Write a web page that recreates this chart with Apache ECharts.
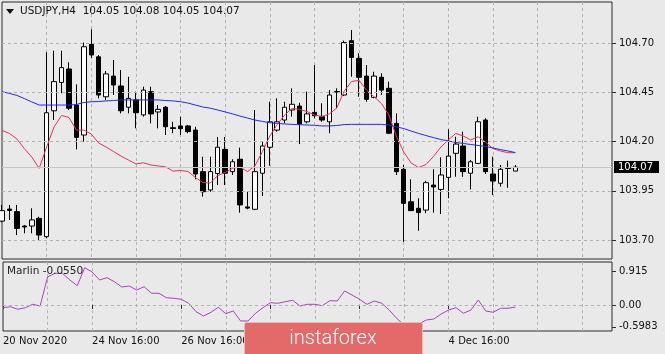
<!DOCTYPE html>
<html>
<head>
<meta charset="utf-8">
<title>USDJPY H4</title>
<script src="https://cdn.jsdelivr.net/npm/echarts@6/dist/echarts.min.js"></script>
<style>
  html, body { margin: 0; padding: 0; background: #e9e9e9; }
  #chart { width: 665px; height: 354px; }
</style>
</head>
<body>
<div id="chart"></div>
<script>
// H4 bars, 20 Nov 16:00 .. 8 Dec 04:00
var barTimes = [
  '20 Nov 16:00', '20 Nov 20:00',
  '23 Nov 00:00', '23 Nov 04:00', '23 Nov 08:00', '23 Nov 12:00', '23 Nov 16:00', '23 Nov 20:00',
  '24 Nov 00:00', '24 Nov 04:00', '24 Nov 08:00', '24 Nov 12:00', '24 Nov 16:00', '24 Nov 20:00',
  '25 Nov 00:00', '25 Nov 04:00', '25 Nov 08:00', '25 Nov 12:00', '25 Nov 16:00', '25 Nov 20:00',
  '26 Nov 00:00', '26 Nov 04:00', '26 Nov 08:00', '26 Nov 12:00', '26 Nov 16:00', '26 Nov 20:00',
  '27 Nov 00:00', '27 Nov 04:00', '27 Nov 08:00', '27 Nov 12:00', '27 Nov 16:00', '27 Nov 20:00',
  '30 Nov 00:00', '30 Nov 04:00', '30 Nov 08:00', '30 Nov 12:00', '30 Nov 16:00', '30 Nov 20:00',
  '1 Dec 00:00', '1 Dec 04:00', '1 Dec 08:00', '1 Dec 12:00', '1 Dec 16:00', '1 Dec 20:00',
  '2 Dec 00:00', '2 Dec 04:00', '2 Dec 08:00', '2 Dec 12:00', '2 Dec 16:00', '2 Dec 20:00',
  '3 Dec 00:00', '3 Dec 04:00', '3 Dec 08:00', '3 Dec 12:00', '3 Dec 16:00', '3 Dec 20:00',
  '4 Dec 00:00', '4 Dec 04:00', '4 Dec 08:00', '4 Dec 12:00', '4 Dec 16:00', '4 Dec 20:00',
  '7 Dec 00:00', '7 Dec 04:00', '7 Dec 08:00', '7 Dec 12:00', '7 Dec 16:00', '7 Dec 20:00',
  '8 Dec 00:00', '8 Dec 04:00'
];

var opens = [
  103.796, 103.857, 103.844, 103.771, 103.771, 103.810, 103.717, 104.356, 104.500, 104.568,
  104.385, 104.233, 104.693, 104.630, 104.427, 104.532, 104.482, 104.374, 104.411, 104.335,
  104.453, 104.350, 104.374, 104.270, 104.279, 104.279, 104.258, 104.047, 103.954, 104.038,
  104.160, 104.047, 104.110, 103.868, 103.856, 104.039, 104.171, 104.258, 104.309, 104.360,
  104.380, 104.300, 104.348, 104.326, 104.300, 104.451, 104.436, 104.712, 104.622, 104.532,
  104.424, 104.526, 104.470, 104.292, 104.059, 103.894, 103.861, 103.852, 103.979, 103.957,
  104.018, 104.140, 104.177, 104.039, 104.089, 104.309, 104.035, 103.988, 104.068, 104.050
];
var closes = [
  103.849, 103.850, 103.759, 103.766, 103.802, 103.725, 104.346, 104.504, 104.575, 104.369,
  104.221, 104.681, 104.639, 104.436, 104.543, 104.487, 104.356, 104.419, 104.346, 104.461,
  104.340, 104.363, 104.275, 104.266, 104.265, 104.250, 104.035, 103.945, 104.047, 104.171,
  104.039, 104.097, 103.878, 103.862, 104.047, 104.177, 104.300, 104.300, 104.374, 104.389,
  104.289, 104.340, 104.331, 104.309, 104.436, 104.454, 104.702, 104.627, 104.526, 104.414,
  104.532, 104.461, 104.242, 104.047, 103.886, 103.849, 103.839, 103.991, 103.969, 104.030,
  104.126, 104.187, 104.047, 104.097, 104.300, 104.047, 103.999, 104.059, 104.063, 104.070
];
var lows = [
  103.790, 103.802, 103.725, 103.734, 103.734, 103.696, 103.709, 104.309, 104.445, 104.360,
  104.160, 104.199, 104.624, 104.419, 104.410, 104.436, 104.343, 104.343, 104.267, 104.326,
  104.292, 104.267, 104.233, 104.242, 104.233, 104.242, 104.008, 103.920, 103.945, 103.979,
  103.979, 104.030, 103.839, 103.856, 103.852, 103.923, 104.077, 104.250, 104.292, 104.326,
  104.187, 104.292, 104.318, 104.300, 104.242, 104.369, 104.431, 104.529, 104.427, 104.402,
  104.419, 104.436, 104.238, 104.030, 103.691, 103.847, 103.747, 103.836, 103.839, 103.832,
  103.912, 104.021, 104.021, 103.957, 104.086, 104.035, 103.928, 103.971, 103.965, 104.050
];
var highs = [
  103.878, 103.878, 103.878, 103.776, 103.861, 103.818, 104.653, 104.661, 104.661, 104.602,
  104.490, 104.702, 104.770, 104.639, 104.558, 104.614, 104.563, 104.529, 104.453, 104.478,
  104.478, 104.385, 104.380, 104.300, 104.326, 104.284, 104.275, 104.123, 104.123, 104.223,
  104.223, 104.110, 104.169, 103.945, 104.360, 104.199, 104.402, 104.419, 104.402, 104.470,
  104.397, 104.453, 104.588, 104.394, 104.461, 104.470, 104.712, 104.766, 104.648, 104.588,
  104.554, 104.546, 104.504, 104.343, 104.081, 104.008, 103.912, 104.001, 104.059, 104.120,
  104.262, 104.224, 104.250, 104.106, 104.326, 104.318, 104.123, 104.081, 104.103, 104.080
];

// fast MA (red) and slow MA (blue)
var maFast = [
  104.256, 104.241, 104.213, 104.164, 104.121, 104.064, 104.172, 104.274, 104.332, 104.322,
  104.258, 104.258, 104.238, 104.192, 104.172, 104.149, 104.126, 104.106, 104.086, 104.092,
  104.081, 104.076, 104.071, 104.050, 104.053, 104.048, 104.017, 103.992, 103.989, 104.027,
  104.043, 104.064, 104.071, 104.047, 104.076, 104.148, 104.228, 104.286, 104.335, 104.368,
  104.363, 104.352, 104.335, 104.327, 104.340, 104.370, 104.456, 104.505, 104.510, 104.461,
  104.428, 104.393, 104.335, 104.228, 104.147, 104.091, 104.068, 104.083, 104.124, 104.172,
  104.208, 104.241, 104.228, 104.208, 104.224, 104.197, 104.164, 104.152, 104.143, 104.143
];
var maSlow = [
  104.453, 104.444, 104.434, 104.418, 104.401, 104.385, 104.385, 104.385, 104.385, 104.385,
  104.388, 104.398, 104.402, 104.403, 104.406, 104.408, 104.411, 104.411, 104.411, 104.411,
  104.411, 104.411, 104.408, 104.406, 104.402, 104.395, 104.385, 104.375, 104.369, 104.360,
  104.350, 104.340, 104.329, 104.319, 104.309, 104.302, 104.295, 104.292, 104.289, 104.287,
  104.285, 104.284, 104.282, 104.279, 104.279, 104.281, 104.286, 104.287, 104.287, 104.287,
  104.287, 104.287, 104.284, 104.274, 104.266, 104.253, 104.241, 104.230, 104.220, 104.210,
  104.203, 104.195, 104.190, 104.185, 104.180, 104.175, 104.167, 104.159, 104.152, 104.144
];

var marlin = [
  -0.074, -0.047, -0.118, -0.074, 0.019, -0.027, 0.767, 0.868, 0.868, 0.685,
  0.529, 1.022, 0.904, 0.685, 0.748, 0.638, 0.493, 0.521, 0.411, 0.501,
  0.321, 0.321, 0.200, 0.184, 0.156, 0.047, -0.184, -0.301, -0.200, -0.063,
  -0.238, -0.164, -0.438, -0.438, -0.227, -0.074, 0.063, 0.047, 0.090, 0.129,
  -0.027, 0.019, 0.019, -0.019, 0.118, 0.110, 0.384, 0.274, 0.156, 0.019,
  0.110, 0.047, -0.137, -0.364, -0.548, -0.598, -0.520, -0.411, -0.384, -0.247,
  -0.137, -0.074, -0.227, -0.137, 0.137, -0.164, -0.200, -0.090, -0.090, -0.055
];

var priceTicks = [103.70, 103.95, 104.20, 104.45, 104.70];
var marlinTicks = [-0.5983, 0.00, 0.915];
var tickTimes = ['20 Nov 16:00', '24 Nov 16:00', '26 Nov 16:00', '30 Nov 16:00', '2 Dec 16:00', '4 Dec 16:00'];
var tickLabels = ['20 Nov 2020', '24 Nov 16:00', '26 Nov 16:00', '30 Nov 16:00', '2 Dec 16:00', '4 Dec 16:00'];
var lastQuote = { open: 104.05, high: 104.08, low: 104.05, close: 104.07 };
var marlinLast = -0.0550;

// empty bar slots to the right of the last candle
var axisCats = barTimes.concat(new Array(13).fill(''));

var candles = opens.map(function (o, i) {
  return [o, closes[i], lows[i], highs[i]];
});

var font = 'DejaVu Sans';
var gridDash = { color: '#b3b3b3', type: [3, 3], width: 1 };

function isGridBar(i) { return i > 0 && i % 6 === 0; }
function isTickBar(i, v) { return tickTimes.indexOf(v) >= 0; }

var chart = echarts.init(document.getElementById('chart'), null, { renderer: 'canvas' });

chart.setOption({
  backgroundColor: '#e9e9e9',
  animation: false,
  textStyle: { fontFamily: font },
  grid: [
    { left: 2, right: 53, top: 2, bottom: 95, show: true, borderColor: '#2b2b2b', borderWidth: 1, backgroundColor: 'transparent' },
    { left: 2, right: 53, top: 262, bottom: 23, show: true, borderColor: '#2b2b2b', borderWidth: 1, backgroundColor: 'transparent' }
  ],
  xAxis: [
    {
      type: 'category', gridIndex: 0, data: axisCats, boundaryGap: false,
      axisLine: { show: false }, axisTick: { show: false }, axisLabel: { show: false },
      splitLine: { show: true, interval: isGridBar, lineStyle: gridDash }
    },
    {
      type: 'category', gridIndex: 1, data: axisCats, boundaryGap: false,
      axisLine: { show: false },
      axisTick: { show: true, interval: isTickBar, length: 4, lineStyle: { color: '#2b2b2b' } },
      axisLabel: {
        show: true, interval: isTickBar, align: 'left', margin: 5,
        fontFamily: font, fontSize: 10, color: '#111',
        formatter: function (v) {
          var k = tickTimes.indexOf(v);
          return k >= 0 ? tickLabels[k] : '';
        }
      },
      splitLine: { show: true, interval: isGridBar, lineStyle: gridDash }
    }
  ],
  yAxis: [
    {
      type: 'value', gridIndex: 0, position: 'right', scale: true,
      min: 103.6036, max: 104.9081,
      axisLine: { show: false },
      axisTick: { show: true, length: 4, customValues: priceTicks, lineStyle: { color: '#2b2b2b' } },
      axisLabel: {
        show: true, customValues: priceTicks, margin: 7,
        fontFamily: font, fontSize: 10, color: '#111',
        formatter: function (v) { return v.toFixed(2); }
      },
      splitLine: { show: false }
    },
    {
      type: 'value', gridIndex: 1, position: 'right',
      min: -0.712, max: 1.178,
      axisLine: { show: false },
      axisTick: { show: true, length: 4, customValues: marlinTicks, lineStyle: { color: '#2b2b2b' } },
      axisLabel: {
        show: true, customValues: marlinTicks, margin: 7,
        fontFamily: font, fontSize: 10, color: '#111',
        formatter: function (v) { return v === 0 ? '0.00' : String(v); }
      },
      splitLine: { show: false }
    }
  ],
  series: [
    {
      // price grid lines + current price line
      type: 'line', xAxisIndex: 0, yAxisIndex: 0, data: [], z: 1,
      markLine: {
        silent: true, symbol: 'none', animation: false,
        label: { show: false },
        lineStyle: gridDash,
        data: priceTicks.map(function (v) { return { yAxis: v }; }).concat([{
          yAxis: lastQuote.close,
          lineStyle: { type: 'solid', color: '#c6c6c6', width: 1 },
          label: {
            show: true, position: 'end', distance: 2,
            formatter: lastQuote.close.toFixed(2),
            backgroundColor: '#000', color: '#fff',
            fontFamily: font, fontSize: 10, lineHeight: 12,
            padding: [0, 6, 0, 4]
          }
        }])
      }
    },
    {
      type: 'line', xAxisIndex: 1, yAxisIndex: 1, data: [], z: 1,
      markLine: {
        silent: true, symbol: 'none', animation: false,
        label: { show: false },
        lineStyle: gridDash,
        data: [{ yAxis: 0 }]
      }
    },
    {
      name: 'USDJPY', type: 'candlestick', xAxisIndex: 0, yAxisIndex: 0,
      data: candles, barWidth: 5, z: 3,
      itemStyle: {
        color: '#ffffff', color0: '#000000',
        borderColor: '#000000', borderColor0: '#000000', borderWidth: 1
      }
    },
    {
      name: 'MA fast', type: 'line', xAxisIndex: 0, yAxisIndex: 0,
      data: maFast, showSymbol: false, z: 4,
      lineStyle: { color: '#e5325c', width: 1 }
    },
    {
      name: 'MA slow', type: 'line', xAxisIndex: 0, yAxisIndex: 0,
      data: maSlow, showSymbol: false, z: 4,
      lineStyle: { color: '#2626ff', width: 1 }
    },
    {
      name: 'Marlin', type: 'line', xAxisIndex: 1, yAxisIndex: 1,
      data: marlin, showSymbol: false, z: 4,
      lineStyle: { color: '#a844bc', width: 1 }
    }
  ],
  graphic: [
    {
      type: 'polygon', z: 50,
      shape: { points: [[6, 9], [14, 9], [10, 14]] },
      style: { fill: '#111' }
    },
    {
      type: 'text', left: 20, top: 6, z: 50,
      style: {
        text: 'USDJPY,H4  ' + [lastQuote.open, lastQuote.high, lastQuote.low, lastQuote.close].map(function (v) { return v.toFixed(2); }).join(' '),
        font: '10.5px "DejaVu Sans"', fill: '#111'
      }
    },
    {
      type: 'text', left: 7, top: 266, z: 50,
      style: { text: 'Marlin ' + marlinLast.toFixed(4), font: '10.5px "DejaVu Sans"', fill: '#222' }
    },
    {
      type: 'group', z: 100,
      children: [
        {
          type: 'rect', z: 100,
          shape: { x: 244.5, y: 322.5, width: 178, height: 36, r: 2 },
          style: { fill: '#e46a6a', stroke: '#f3b6b6', lineWidth: 1 }
        },
        {
          type: 'text', z: 101, x: 333, y: 339,
          style: {
            text: 'instaforex', font: '300 20px Roboto', fill: '#ffffff',
            textAlign: 'center', textVerticalAlign: 'middle'
          }
        }
      ]
    }
  ]
});
</script>
</body>
</html>
